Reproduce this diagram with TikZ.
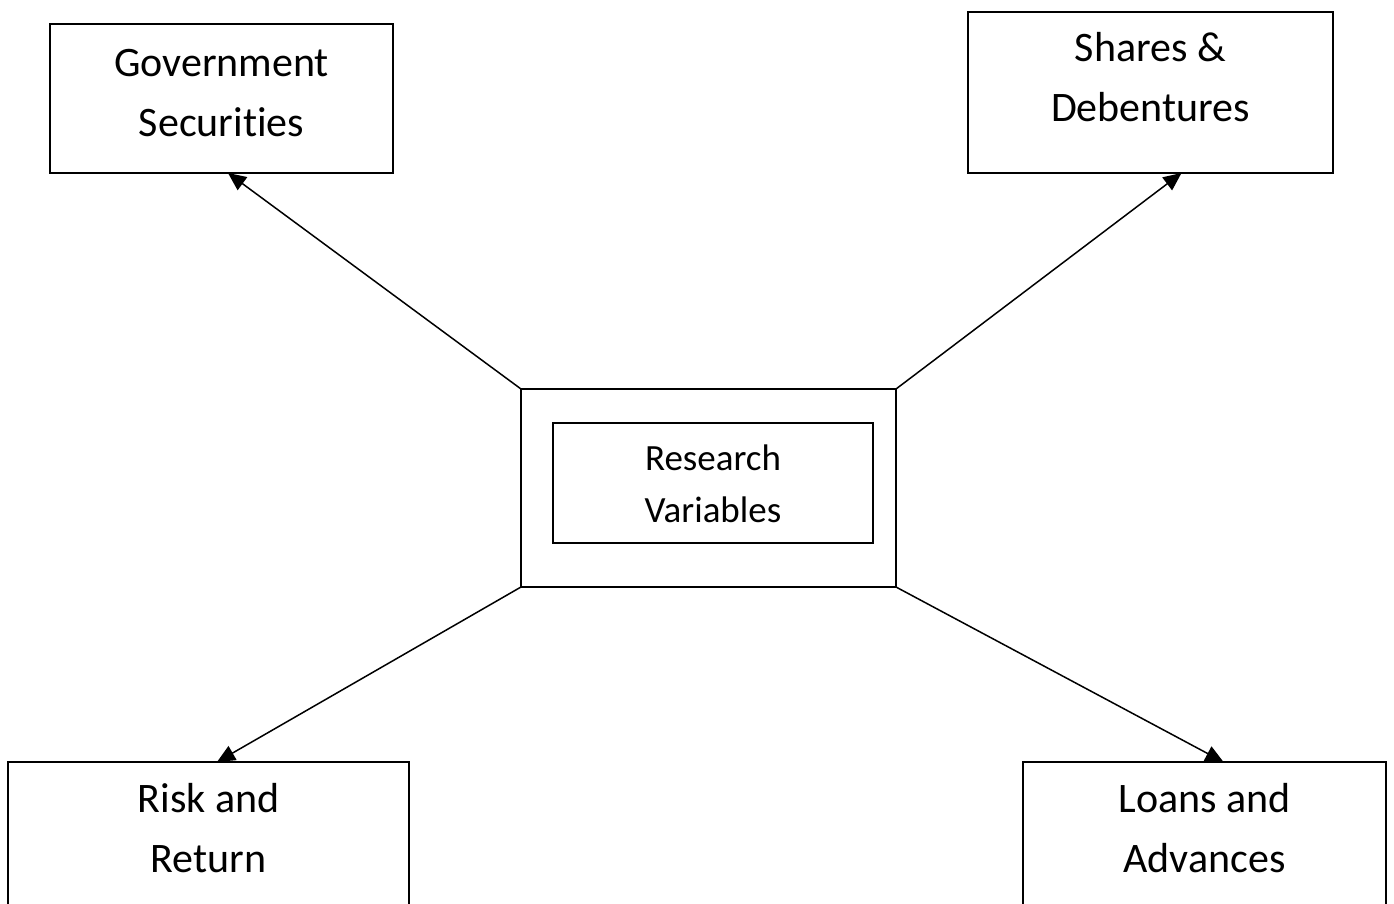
\documentclass[tikz,border=0pt]{standalone}
\usepackage{fontspec}
\setmainfont[Ligatures = NoCommon]{Carlito}
\usetikzlibrary{arrows.meta,%
                positioning}

\begin{document}
\begin{tikzpicture}[x = 1pt, y = -1pt]
  \useasboundingbox (0,0) rectangle (1394,904);
  \tikzset{BoxStyle/.style   = {draw,
                                line width    = 1.8pt,
                                inner sep     = 0pt,
                                outer sep     = 0pt,
                                align         = center,
                                font          = \fontsize{42}{60}\selectfont,
                                text height   = 110pt,
                                text depth    = 51pt}}
  \tikzset{CoreStyle/.style  = {draw,
                                line width    = 1.8pt,
                                inner sep     = 0pt,
                                outer sep     = 0pt,
                                minimum width = 375pt,
                                minimum height= 198pt}}
  \tikzset{InnerStyle/.style = {BoxStyle,
                                font          = \fontsize{37}{52}\selectfont,
                                minimum width = 320pt,
                                text height   = 99pt,
                                text depth    = 21pt}}
  \tikzset{EdgeStyle/.style  = {line width    = 1.5pt,
                                -{Triangle[length = 18pt, width = 16pt]}}}
     \node[CoreStyle] at (708.5,488) (Core) {};
     \node[InnerStyle] at ([shift = {(4.5pt,5pt)}]Core.center) (Var) {Research\\Variables};
     \node[BoxStyle,minimum width = 343pt,text height = 113pt,text depth = 36pt,
           above left = 216pt and 128pt of Core](Gov){Government\\Securities};
     \node[BoxStyle,minimum width = 365pt,
           above right = 216pt and 72pt of Core](Shares){Shares \&\\Debentures};
     \node[BoxStyle,minimum width = 401pt,
           below left = 175pt and 112pt of Core](Risk){Risk and\\Return};
     \node[BoxStyle,minimum width = 363pt,
           below right = 175pt and 127pt of Core](Loans){Loans and\\Advances};

     \draw[EdgeStyle](Core.north west) -- ([xshift = 6.5pt]Gov.south);
     \draw[EdgeStyle](Core.north east) -- ([xshift = 31pt]Shares.south);
     \draw[EdgeStyle](Core.south west) -- ([xshift = 8.5pt]Risk.north);
     \draw[EdgeStyle](Core.south east) -- ([xshift = 19pt]Loans.north);
\end{tikzpicture}
\end{document}
